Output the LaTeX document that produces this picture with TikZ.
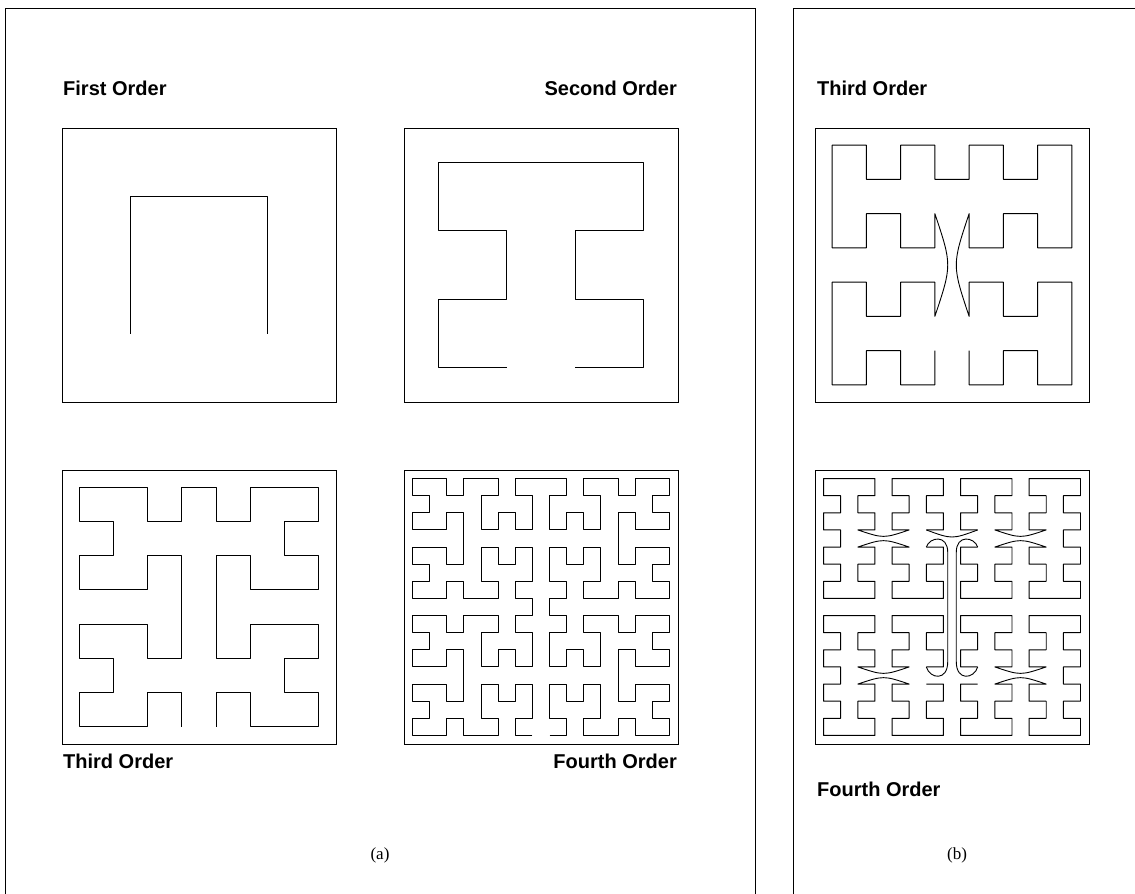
\documentclass[tikz,border=0pt]{standalone}
\usepackage{fontspec}
\setmainfont{Liberation Serif}
\setsansfont{Liberation Sans}
\tikzset{
  frame/.style={line width=1pt, draw=black},
  curve/.style={line width=0.9pt, draw=black, line join=round},
  lbl/.style={font=\sffamily\bfseries\fontsize{20}{24}\selectfont, inner sep=0pt},
  captext/.style={font=\fontsize{17}{20}\selectfont, inner sep=0pt}
}
% Hilbert order 3 (8x8), from bottom-right to top-right, first point (7,7) omitted
\def\hlist{6/7,6/6,7/6,7/5,7/4,6/4,6/5,5/5,5/4,4/4,4/5,4/6,5/6,5/7,4/7,3/7,3/6,2/6,2/7,1/7,0/7,0/6,1/6,1/5,0/5,0/4,1/4,2/4,2/5,3/5,3/4,3/3,3/2,2/2,2/3,1/3,0/3,0/2,1/2,1/1,0/1,0/0,1/0,2/0,2/1,3/1,3/0,4/0,5/0,5/1,4/1,4/2,4/3,5/3,5/2,6/2,6/3,7/3,7/2,7/1,6/1,6/0,7/0}
\def\pthreepath{(3,6) -- (3,7) -- (2,7) -- (2,6) -- (1,6) -- (1,7) -- (0,7) -- (0,4) -- (1,4) -- (1,5) -- (2,5) -- (2,4) -- (3,4) -- (3,5) .. controls (3.5,3.5) .. (3,2) -- (3,3) -- (2,3) -- (2,2) -- (1,2) -- (1,3) -- (0,3) -- (0,0) -- (1,0) -- (1,1) -- (2,1) -- (2,0) -- (3,0) -- (3,1) -- (4,1) -- (4,0) -- (5,0) -- (5,1) -- (6,1) -- (6,0) -- (7,0) -- (7,3) -- (6,3) -- (6,2) -- (5,2) -- (5,3) -- (4,3) -- (4,2) .. controls (3.5,3.5) .. (4,5) -- (4,4) -- (5,4) -- (5,5) -- (6,5) -- (6,4) -- (7,4) -- (7,7) -- (6,7) -- (6,6) -- (5,6) -- (5,7) -- (4,7) -- (4,6)}
\begin{document}
\begin{tikzpicture}[x=1pt,y=-1pt]
\useasboundingbox (0,0) rectangle (1135,894);
\fill[white] (0,0) rectangle (1135,894);

% panel frames
\draw[frame] (5,894) -- (5,8) -- (755,8) -- (755,894);
\draw[frame] (1135,8) -- (793,8) -- (793,894);

% labels
\node[lbl, anchor=west] (l1) at (63,88) {First Order};
\node[lbl, anchor=east] (l2) at (677,88) {Second Order};
\node[lbl, anchor=west] (l3) at (63,761) {Third Order};
\node[lbl, anchor=east] (l4) at (677,761) {Fourth Order};
\node[lbl, anchor=west] (l5) at (817,88) {Third Order};
\node[lbl, anchor=west] (l6) at (817,789) {Fourth Order};
\node[captext] (ca) at (380,855) {(a)};
\node[captext] (cb) at (957,855) {(b)};

% boxes
\draw[frame] (62,128) rectangle (336,402);
\draw[frame] (404,128) rectangle (678,402);
\draw[frame] (62,470) rectangle (336,744);
\draw[frame] (404,470) rectangle (678,744);
\draw[frame] (815,128) rectangle (1089,402);
\draw[frame] (815,470) rectangle (1089,744);

% first order
\begin{scope}[shift={(130.5,196.5)}, x=137pt, y=-137pt]
  \draw[curve] (0,1) -- (0,0) -- (1,0) -- (1,1);
\end{scope}

% second order
\begin{scope}[shift={(438.25,162.25)}, x=68.5pt, y=-68.5pt]
  \draw[curve] (1,3) -- (0,3) -- (0,2) -- (1,2) -- (1,1) -- (0,1) -- (0,0) -- (3,0) -- (3,1) -- (2,1) -- (2,2) -- (3,2) -- (3,3) -- (2,3);
\end{scope}

% third order (a)
\begin{scope}[shift={(79.125,487.125)}, x=34.25pt, y=-34.25pt]
  \draw[curve] (3,7) -- (3,6) -- (2,6) -- (2,7) -- (0,7) -- (0,6) -- (1,6) -- (1,5) -- (0,5) -- (0,4) -- (2,4) -- (2,5) -- (3,5) -- (3,2) -- (2,2) -- (2,3) -- (0,3) -- (0,2) -- (1,2) -- (1,1) -- (0,1) -- (0,0) -- (2,0) -- (2,1) -- (3,1) -- (3,0) -- (4,0) -- (4,1) -- (5,1) -- (5,0) -- (7,0) -- (7,1) -- (6,1) -- (6,2) -- (7,2) -- (7,3) -- (5,3) -- (5,2) -- (4,2) -- (4,5) -- (5,5) -- (5,4) -- (7,4) -- (7,5) -- (6,5) -- (6,6) -- (7,6) -- (7,7) -- (5,7) -- (5,6) -- (4,6) -- (4,7);
\end{scope}

% fourth order (a)
\begin{scope}[shift={(412.5625,478.5625)}, x=17.125pt, y=-17.125pt]
  \draw[curve] (7,15) \foreach \i/\j in \hlist {-- (\i,\j+8)} -- (7,7) \foreach \i/\j in \hlist {-- (\i,\j)} -- (7.5,0);
  \begin{scope}[shift={(15,0)}, xscale=-1]
    \draw[curve] (7,15) \foreach \i/\j in \hlist {-- (\i,\j+8)} -- (7,7) \foreach \i/\j in \hlist {-- (\i,\j)} -- (7.5,0);
  \end{scope}
\end{scope}

% third order (b)
\begin{scope}[shift={(832.125,145.125)}, x=34.25pt, y=-34.25pt]
  \draw[curve] \pthreepath;
\end{scope}

% fourth order (b): four transposed copies
\begin{scope}[shift={(823.5625,478.5625)}, x={(0pt,-17.125pt)}, y={(17.125pt,0pt)}]
  \draw[curve] \pthreepath;
\end{scope}
\begin{scope}[shift={(1080.4375,478.5625)}, x={(0pt,-17.125pt)}, y={(-17.125pt,0pt)}]
  \draw[curve] \pthreepath;
\end{scope}
\begin{scope}[shift={(823.5625,615.5625)}, x={(0pt,-17.125pt)}, y={(17.125pt,0pt)}]
  \draw[curve] \pthreepath;
\end{scope}
\begin{scope}[shift={(1080.4375,615.5625)}, x={(0pt,-17.125pt)}, y={(-17.125pt,0pt)}]
  \draw[curve] \pthreepath;
\end{scope}
\begin{scope}[shift={(823.5625,478.5625)}, x=17.125pt, y=-17.125pt]
  \draw[curve] (6,3) .. controls (7.5,3.55) .. (9,3);
  \draw[curve] (6,4) .. controls (6.2,3.4) and (7.25,3.25) .. (7.25,4.3) -- (7.25,10.7) .. controls (7.25,11.85) and (6.2,11.7) .. (6,11);
  \draw[curve] (9,4) .. controls (8.8,3.4) and (7.75,3.25) .. (7.75,4.3) -- (7.75,10.7) .. controls (7.75,11.85) and (8.8,11.7) .. (9,11);
\end{scope}
\end{tikzpicture}
\end{document}
